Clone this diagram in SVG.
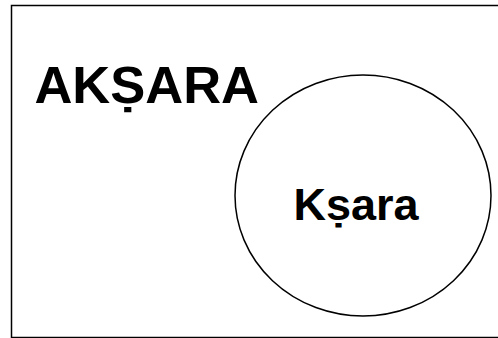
<svg xmlns="http://www.w3.org/2000/svg" width="498" height="338" viewBox="0 0 498 338">
<style>
.t{font-family:"Liberation Sans",Arial,sans-serif;font-weight:bold;fill:#000}
.s{fill:none;stroke:#000;stroke-width:1.5}
</style>
<rect x="0" y="0" width="498" height="338" fill="#fff"/>
<g id="outer">
<rect class="s" x="11.5" y="5.5" width="492" height="332"/>
<text class="t" x="259" y="103" font-size="52.5" text-anchor="end">AKṢARA</text>
</g>
<g id="inner">
<ellipse class="s" cx="363" cy="195.5" rx="128" ry="120.5" fill="#fff"/>
<text class="t" x="356" y="220" font-size="45" text-anchor="middle">Kṣara</text>
</g>
<g id="connectors"/>
</svg>
